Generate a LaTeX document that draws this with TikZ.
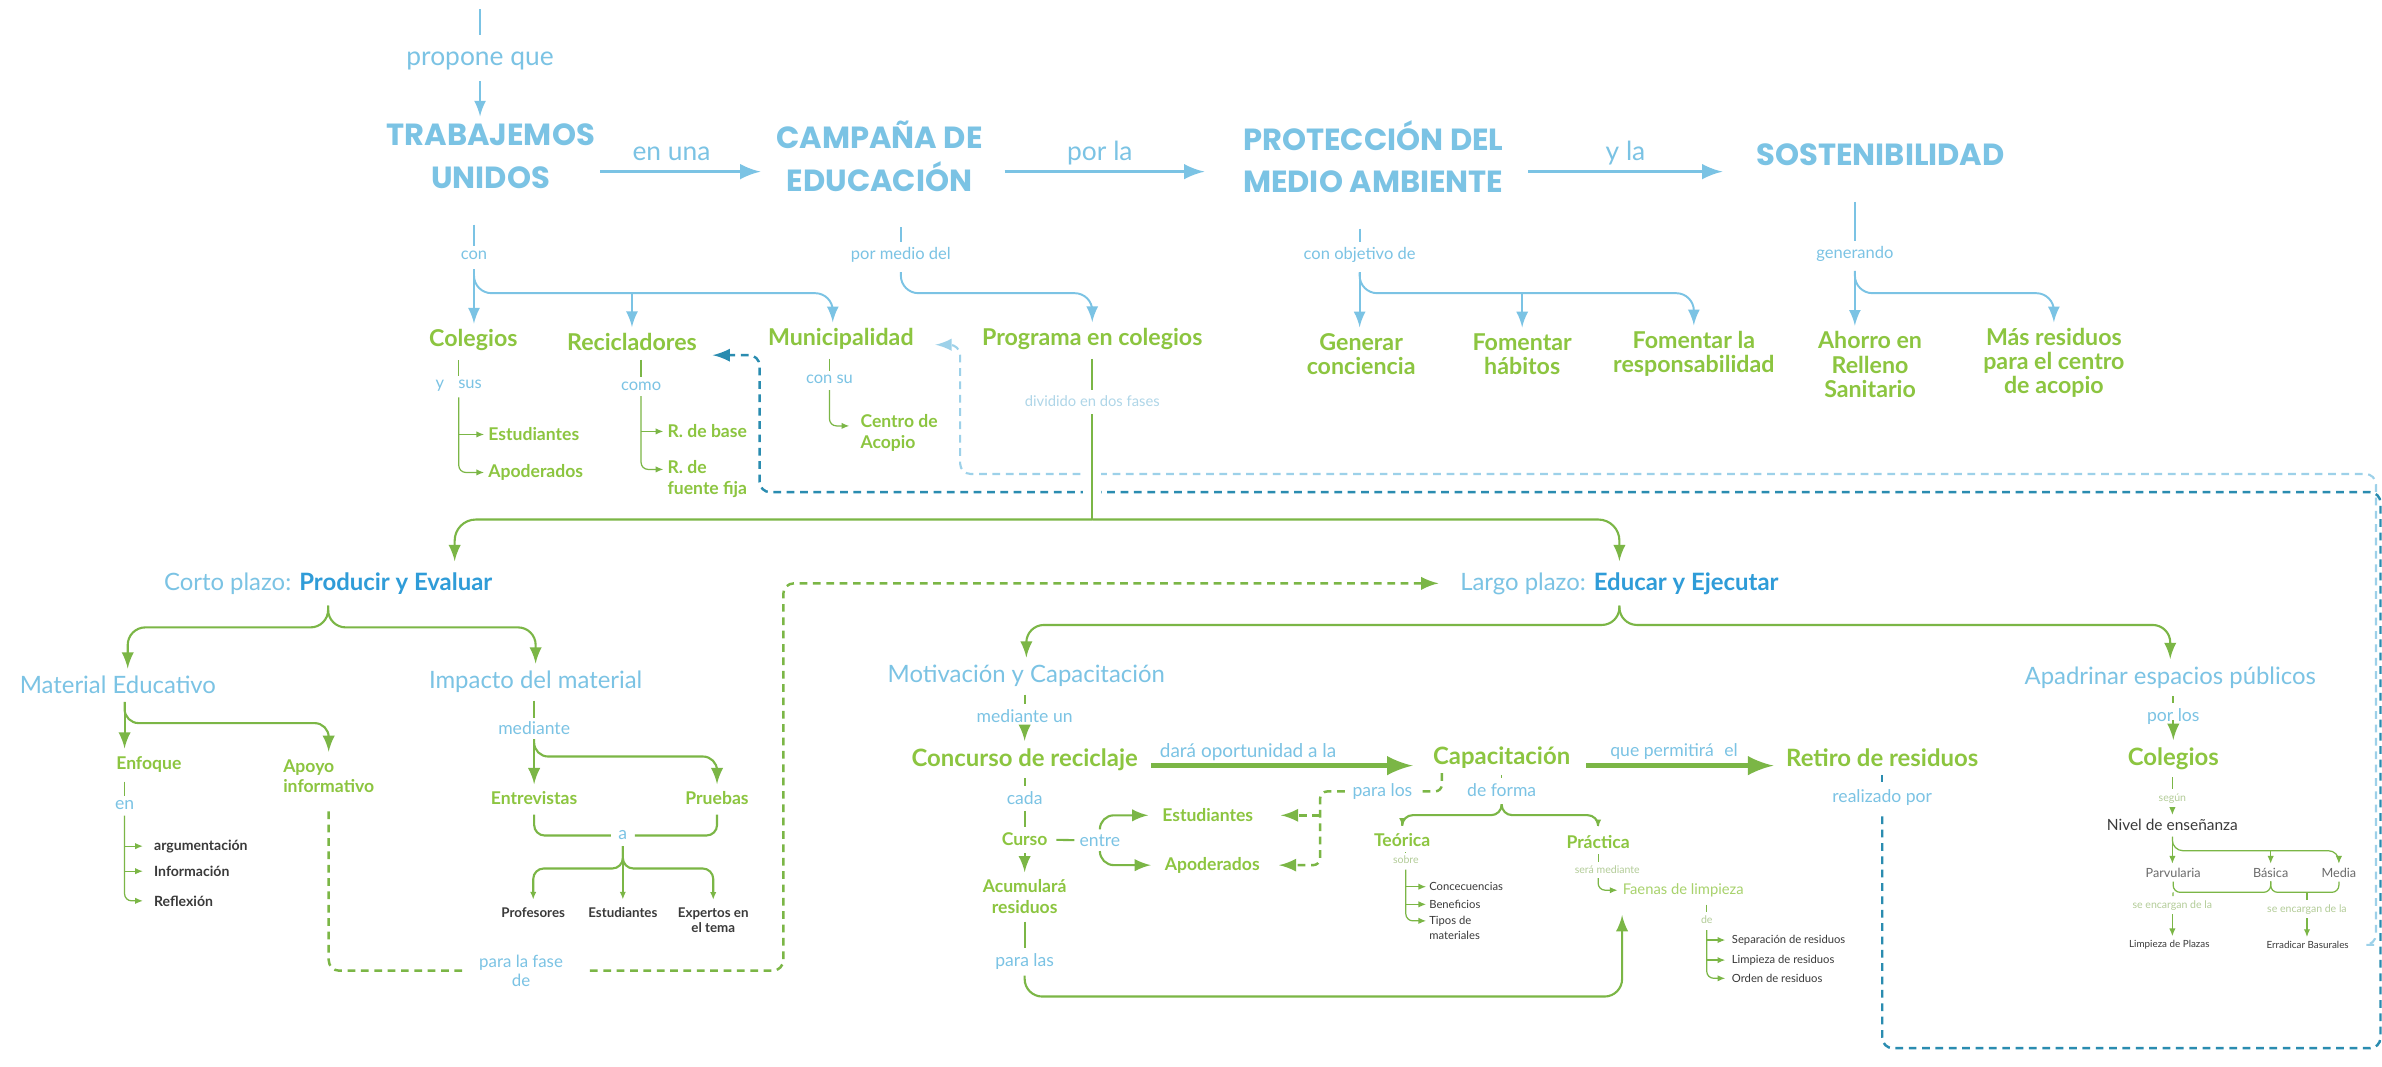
\documentclass[tikz,border=0pt]{standalone}
\usepackage{fontspec}
\setmainfont{Lato}
\newfontfamily\capsfont{Poppins}
\usetikzlibrary{positioning,shapes,arrows,arrows.meta,calc}

\definecolor{mapblue}{HTML}{7BC3E4}
\definecolor{deepblue}{HTML}{2F9CD8}
\definecolor{mapgreen}{HTML}{8CC540}
\definecolor{linegreen}{HTML}{7BB646}
\definecolor{softgreen}{HTML}{A8D26C}
\definecolor{palegreen}{HTML}{B3CC98}
\definecolor{fadeblue}{HTML}{AFD6E8}
\definecolor{tealdash}{HTML}{2A8CB0}
\definecolor{lightdash}{HTML}{9DD1E9}
\definecolor{textgray}{HTML}{3A3A3A}
\definecolor{midgray}{HTML}{6B6B6B}

\newcommand{\fsz}[2]{\fontsize{#1}{#2}\selectfont}

\begin{document}
\begin{tikzpicture}[
		x=0.1519mm, y=-0.1519mm,
		every node/.style={inner sep=0pt,align=center},
		ttl/.style={font=\capsfont\bfseries\fsz{8.7}{12.1},text=mapblue},
		lnk/.style={font=\fsz{7.5}{8},text=mapblue},
		lnks/.style={font=\fsz{4.7}{5},text=mapblue},
		lnkm/.style={font=\fsz{5}{5.3},text=mapblue},
		faint/.style={font=\fsz{3}{3.2},text=palegreen},
		gnd/.style={font=\bfseries\fsz{6.6}{6.9},text=mapgreen},
		gbig/.style={font=\bfseries\fsz{6.8}{7},text=mapgreen},
		gsm/.style={font=\bfseries\fsz{5}{5.9},text=mapgreen},
		bhead/.style={font=\fsz{6.8}{7},text=mapblue},
		gry/.style={font=\bfseries\fsz{4}{4.5},text=textgray},
		grytiny/.style={font=\bfseries\fsz{3.8}{4.5},text=textgray},
		grys/.style={font=\fsz{3.2}{4.1},text=textgray},
		nivelgray/.style={font=\fsz{3.6}{4},text=midgray},
		bline/.style={draw=mapblue,line width=0.55pt},
		barrow/.style={bline,-latex},
		bthick/.style={draw=mapblue,line width=1pt,-latex},
		gline/.style={draw=linegreen,line width=0.6pt},
		garrow/.style={gline,-latex},
		gthick/.style={draw=linegreen,line width=1.5pt,-latex},
		sline/.style={draw=linegreen,line width=0.35pt},
		tip/.style={-{Latex[length=2.2pt,width=1.8pt]}},
		gdash/.style={draw=linegreen,line width=0.7pt,dash pattern=on 2.2pt off 1.6pt},
		tdash/.style={draw=tealdash,line width=0.7pt,dash pattern=on 2.2pt off 1.6pt},
		ldash/.style={draw=lightdash,line width=0.6pt,dash pattern=on 2.2pt off 1.6pt}
		]
		\fill[white] (0,0) rectangle (1568,702);
		\useasboundingbox (0,0) rectangle (1568,702);

		% top row
		\coordinate (start) at (316,6);
		\node[lnk] (propone) at (316,40) {propone que};
		\node[ttl] (trabajemos) at (323,103) {TRABAJEMOS\\UNIDOS};
		\node[ttl] (campana) at (579,103) {CAMPAÑA DE\\EDUCACIÓN};
		\node[ttl] (proteccion) at (904,103) {PROTECCIÓN DEL\\MEDIO AMBIENTE};
		\node[ttl] (sostenib) at (1238,102) {SOSTENIBILIDAD};
		\node[lnk] (enuna) at (442,101) {en una};
		\node[lnk] (porla) at (724,101) {por la};
		\node[lnk] (yla) at (1070,101) {y la};

		\draw[bline] (start) -- ++(0,17);
		\draw[barrow,shorten <=3pt,shorten >=2pt] (propone) -- (propone |- trabajemos.north);
		\draw[bthick,shorten <=1.3pt,shorten >=4.3pt] (trabajemos.east |- 0,113) -- (campana.west |- 0,113);
		\draw[bthick,shorten <=6pt,shorten >=10.8pt] (campana.east |- 0,113) -- (proteccion.west |- 0,113);
		\draw[bthick,shorten <=6.9pt,shorten >=9.5pt] (proteccion.east |- 0,113) -- (sostenib.west |- 0,113);

		% second level
		\node[lnks] (con) at (312,168) {con};
		\node[lnks] (pormedio) at (593,168) {por medio del};
		\node[lnks] (objetivo) at (895,168) {con objetivo de};
		\node[lnks] (generando) at (1221,167) {generando};

		\node[gnd] (colegios) at (311.6,224) {Colegios};
		\node[gnd] (recicladores) at (416,225) {Recicladores};
		\node[gnd] (municipalidad) at (553.5,223) {Municipalidad};
		\node[gnd] (programa) at (719,223) {Programa en colegios};
		\node[gnd] (generar) at (896,233) {Generar\\conciencia};
		\node[gnd] (fomentarh) at (1002,233) {Fomentar\\hábitos};
		\node[gnd] (fomentarr) at (1115,233) {Fomentar la\\responsabilidad};
		\node[gnd] (ahorro) at (1231,240) {Ahorro en\\Relleno\\Sanitario};
		\node[gnd] (masres) at (1352,239) {Más residuos\\para el centro\\de acopio};

		\draw[bline,shorten <=10pt,shorten >=1.3pt] (con |- trabajemos.south) -- (con);
		\draw[barrow,shorten <=2.5pt,shorten >=1.5pt] (con) -- (con |- colegios.north);
		\draw[barrow,rounded corners=5pt,shorten <=2.5pt,shorten >=1.5pt] (con) -- (con |- 0,193) -| ([xshift=-2.3pt]municipalidad.north);
		\draw[barrow,shorten >=1.5pt] (recicladores.north |- 0,193) -- (recicladores.north);
		\draw[bline,shorten <=10pt,shorten >=1.3pt] (pormedio |- campana.south) -- (pormedio);
		\draw[barrow,rounded corners=5pt,shorten <=2.5pt,shorten >=1.5pt] (pormedio) -- (pormedio |- 0,193) -| (programa.north);
		\draw[bline,shorten <=10pt,shorten >=1.3pt] (objetivo |- proteccion.south) -- (objetivo);
		\draw[barrow,shorten <=2.5pt,shorten >=1.5pt] (objetivo) -- (objetivo |- generar.north);
		\draw[barrow,rounded corners=5pt,shorten <=2.5pt,shorten >=1.5pt] (objetivo) -- (objetivo |- 0,193) -| (fomentarr.north);
		\draw[barrow,shorten >=1.5pt] (fomentarh.north |- 0,193) -- (fomentarh.north);
		\draw[bline,shorten <=10pt,shorten >=1.3pt] (generando |- sostenib.south) -- (generando);
		\draw[barrow,shorten <=2.5pt,shorten >=1.5pt] (generando) -- (generando |- ahorro.north);
		\draw[barrow,rounded corners=5pt,shorten <=2.5pt,shorten >=1.5pt] (generando) -- (generando |- 0,193) -| (masres.north);

		% under colegios, recicladores, municipalidad
		\node[lnks] (ysus) at (302,254) {y\hspace{4pt}sus};
		\node[gsm,anchor=west] (colest) at (321,286) {Estudiantes};
		\node[gsm,anchor=west] (colapo) at (321,311) {Apoderados};
		\node[lnks] (como) at (422,254) {como};
		\node[gsm,anchor=west] (rbase) at (439,284) {R. de base};
		\node[gsm,anchor=west,align=left] (rfija) at (439,315.5) {R. de\\fuente fija};
		\node[lnks] (consu) at (546,250) {con su};
		\node[gsm,anchor=west,align=left] (acopio) at (566,285) {Centro de\\Acopio};
		\node[font=\fsz{4.2}{4.5},text=fadeblue] (dividido) at (719,264) {dividido en dos fases};

		\draw[sline,shorten <=2.5pt,shorten >=1pt] (ysus |- colegios.south) -- (ysus.north);
		\draw[sline,tip,shorten >=1pt] (ysus |- colest.west) -- (colest.west);
		\draw[sline,tip,rounded corners=2pt,shorten <=1.5pt,shorten >=1pt] (ysus) |- (colapo.west);
		\draw[sline,shorten <=2.5pt,shorten >=1pt] (como |- recicladores.south) -- (como.north);
		\draw[sline,tip,shorten >=1pt] (como |- rbase.west) -- (rbase.west);
		\draw[sline,tip,rounded corners=2pt,shorten <=1.5pt,shorten >=1pt] (como) |- ([yshift=2.8pt]rfija.west);
		\draw[sline,shorten <=2.5pt,shorten >=1pt] (consu |- municipalidad.south) -- (consu.north);
		\draw[sline,tip,rounded corners=2pt,shorten <=1.5pt,shorten >=3pt] (consu) |- ([yshift=2pt]acopio.west);
		\draw[gline,shorten <=2.5pt,shorten >=1.5pt] (dividido |- programa.south) -- (dividido);

		% short term
		\node[bhead] (corto) at (216,384) {Corto plazo: \textbf{\color{deepblue}Producir y Evaluar}};
		\node[bhead] (largo) at (1066,384) {Largo plazo: \textbf{\color{deepblue}Educar y Ejecutar}};
		\node[bhead] (material) at (77.6,451) {Material Educativo};
		\node[bhead] (impacto) at (352.6,449) {Impacto del material};
		\node[gsm] (enfoque) at (98,503) {Enfoque};
		\node[gsm,anchor=west,align=left] (apoyo) at (186,511) {Apoyo\\informativo};
		\node[lnkm] (en) at (82,530) {en};
		\node[gry,anchor=west] (argument) at (101,557) {argumentación};
		\node[gry,anchor=west] (informa) at (101,573.5) {Información};
		\node[gry,anchor=west] (reflexion) at (101,593) {Reflexión};
		\node[lnkm] (mediante) at (351.6,479.5) {mediante};
		\node[gsm] (entrevistas) at (351.6,525.6) {Entrevistas};
		\node[gsm] (pruebas) at (472,525.6) {Pruebas};
		\node[lnkm] (aa) at (410,550) {a};
		\node[grytiny] (profesores) at (351,600.5) {Profesores};
		\node[grytiny] (estudiantes) at (410,600.5) {Estudiantes};
		\node[grytiny] (expertos) at (469.5,605.8) {Expertos en\\el tema};
		\node[font=\fsz{4.8}{5.3},text=mapblue] (fase) at (343,639) {para la fase\\de};

		% long term
		\node[bhead] (motivacion) at (675.6,445) {Motivación y Capacitación};
		\node[lnkm] (medun) at (674.5,471.4) {mediante un};
		\node[gbig] (concurso) at (674.5,500) {Concurso de reciclaje};
		\node[font=\fsz{5.4}{6},text=mapblue] (daraop) at (821.6,494.8) {dará oportunidad a la};
		\node[gbig] (capacitacion) at (988.5,499) {Capacitación};
		\node[lnkm] (permite) at (1102,494.5) {que permitirá\hspace{3pt}el};
		\node[gbig] (retiro) at (1239,499) {Retiro de residuos};
		\node[lnkm] (cada) at (674.5,525.6) {cada};
		\node[gsm] (curso) at (674.5,552.4) {Curso};
		\node[lnkm] (entre) at (724,553.4) {entre};
		\node[gsm] (estudtres) at (795,536.7) {Estudiantes};
		\node[gsm] (apodtres) at (798,569.5) {Apoderados};
		\node[gsm] (acumula) at (674.5,590.4) {Acumulará\\residuos};
		\node[lnkm] (paralas) at (674.5,633) {para las};
		\node[lnkm] (paralos) at (910,521) {para los};
		\node[lnkm] (deforma) at (988.5,520) {de forma};
		\node[gsm] (teorica) at (923,553) {Teórica};
		\node[gsm] (practica) at (1052,554) {Práctica};
		\node[faint] (sobre) at (925.4,566) {sobre};
		\node[grys,anchor=west] (consec) at (940.4,583.7) {Concecuencias};
		\node[grys,anchor=west] (benef) at (940.4,595.3) {Beneficios};
		\node[grys,anchor=west,align=left] (tipos) at (940.4,610.8) {Tipos de\\materiales};
		\node[faint] (seramed) at (1058,572.7) {será mediante};
		\node[font=\fsz{4.2}{4.5},text=softgreen] (faenas) at (1108,586) {Faenas de limpieza};
		\node[faint] (defa) at (1123.5,605.7) {de};
		\node[grys,anchor=west] (separa) at (1139.6,618.8) {Separación de residuos};
		\node[grys,anchor=west] (limpres) at (1139.6,632) {Limpieza de residuos};
		\node[grys,anchor=west] (orden) at (1139.6,644) {Orden de residuos};
		\node[lnkm] (realiz) at (1239,524.7) {realizado por};

		% public spaces
		\node[bhead] (apadrinar) at (1428.6,446) {Apadrinar espacios públicos};
		\node[lnkm] (porlos) at (1430.6,472) {por los};
		\node[gbig] (colegiosb) at (1430.6,499.4) {Colegios};
		\node[faint] (segun) at (1430,525.5) {según};
		\node[font=\fsz{4.4}{5},text=textgray] (nivel) at (1430,543) {Nivel de enseñanza};
		\node[nivelgray] (parvularia) at (1430.5,574.4) {Parvularia};
		\node[nivelgray] (basica) at (1494.7,574.4) {Básica};
		\node[nivelgray] (media) at (1539.6,574.4) {Media};
		\node[faint] (encargp) at (1430,595.8) {se encargan de la};
		\node[faint] (encargb) at (1518.6,598.6) {se encargan de la};
		\node[font=\fsz{2.8}{3},text=textgray] (plazas) at (1428,622) {Limpieza de Plazas};
		\node[font=\fsz{2.8}{3},text=textgray] (erradicar) at (1519,622) {Erradicar Basurales};

		% dashed feedback lines
		\draw[tdash,shorten <=2pt,shorten >=1.5pt] (realiz |- retiro.south) -- (realiz);
		\draw[tdash,-latex,rounded corners=3pt,shorten <=3pt,shorten >=4.3pt] (realiz) |- (1567,690) |- (500,324) |- ([yshift=-3.8pt]recicladores.east);
		\draw[ldash,-latex,rounded corners=3pt,shorten <=7pt,shorten >=6pt] (erradicar) -| (1564,312) -- (632,312) |- ([yshift=-1.7pt]municipalidad.east);

		% two phases
		\draw[gline,preaction={draw=white,line width=5pt},shorten <=2pt] (dividido) -- (dividido |- 0,342);
		\draw[garrow,rounded corners=6pt,shorten >=3pt] (dividido |- 0,342) -| ([xshift=36pt]corto.north);
		\draw[garrow,rounded corners=6pt,shorten >=3pt] (dividido |- 0,342) -| (largo.north);

		\draw[garrow,rounded corners=5pt,shorten <=3pt,shorten >=2pt] (corto) -- (corto |- 0,413) -| ([xshift=2.8pt]material.north);
		\draw[garrow,rounded corners=5pt,shorten <=3pt,shorten >=2pt] (corto) -- (corto |- 0,413) -| (impacto.north);
		\draw[garrow,shorten <=2pt,shorten >=2pt] (en |- material.south) -- (en |- enfoque.north);
		\draw[garrow,rounded corners=4pt,shorten <=2pt,shorten >=2pt] (en |- material.south) -- (en |- 0,476) -| (apoyo.north);
		\draw[sline,shorten <=2.5pt,shorten >=1pt] (en |- enfoque.south) -- (en);
		\draw[sline,tip,shorten >=3pt] (en |- argument.west) -- (argument.west);
		\draw[sline,tip,shorten >=3pt] (en |- informa.west) -- (informa.west);
		\draw[sline,tip,rounded corners=2pt,shorten <=1.5pt,shorten >=3pt] (en) |- (reflexion.west);
		\draw[gline,shorten <=2pt,shorten >=1pt] (mediante |- impacto.south) -- (mediante);
		\draw[garrow,shorten <=1pt,shorten >=2pt] (mediante) -- (mediante |- entrevistas.north);
		\draw[garrow,rounded corners=4pt,shorten <=1pt,shorten >=2pt] (mediante) -- (mediante |- 0,498) -| (pruebas.north);
		\draw[gline,rounded corners=3pt,shorten <=2.5pt,shorten >=2pt] (entrevistas) |- (aa.west);
		\draw[gline,rounded corners=3pt,shorten <=2.5pt,shorten >=2pt] (pruebas) |- (aa.east);
		\draw[gline,tip,shorten <=1.5pt,shorten >=2pt] (aa) -- (estudiantes);
		\draw[gline,tip,rounded corners=3pt,shorten <=1.5pt,shorten >=2pt] (aa) -- (aa |- 0,571.7) -| (profesores.north);
		\draw[gline,tip,rounded corners=3pt,shorten <=1.5pt,shorten >=2pt] (aa) -- (aa |- 0,571.7) -| (expertos.north);
		\draw[gdash,rounded corners=3pt,shorten <=5pt,shorten >=4pt] (apoyo.south) |- (fase.west);
		\draw[gdash,-latex,rounded corners=3pt,shorten <=7.5pt,shorten >=6pt] (fase.east) -| (largo.west -| 515.6,0) -- (largo.west);

		\draw[garrow,rounded corners=5pt,shorten <=3pt,shorten >=2pt] (largo) -- (largo |- 0,411.4) -| (motivacion.north);
		\draw[garrow,rounded corners=5pt,shorten <=3pt,shorten >=2pt] (largo) -- (largo |- 0,411.4) -| (apadrinar.north);
		\draw[gline,shorten <=2pt,shorten >=1.5pt] (medun |- motivacion.south) -- (medun);
		\draw[garrow,shorten <=1.5pt,shorten >=2pt] (medun) -- (medun |- concurso.north);
		\draw[gthick,shorten <=3.7pt,shorten >=5.6pt] (concurso.east |- 0,504) -- (capacitacion.west |- 0,504);
		\draw[gthick,shorten <=4.3pt,shorten >=3.4pt] (capacitacion.east |- 0,504) -- (retiro.west |- 0,504);
		\draw[gline,shorten <=2pt,shorten >=1.5pt] (cada |- concurso.south) -- (cada);
		\draw[gline,shorten <=1.5pt,shorten >=1.5pt] (cada) -- (curso);
		\draw[garrow,shorten <=2pt,shorten >=2pt] (curso) -- (acumula);
		\draw[gline,shorten <=2pt,shorten >=1.5pt] (acumula) -- (paralas);
		\draw[garrow,rounded corners=5pt,shorten <=1.5pt,shorten >=5pt] (paralas) -- (paralas |- 0,656) -| (faenas.south west);
		\draw[gline,shorten <=2.3pt,shorten >=1.3pt] (curso) -- (entre);
		\draw[garrow,rounded corners=4pt,shorten <=1.5pt,shorten >=3.8pt] (entre) |- (estudtres.west);
		\draw[garrow,rounded corners=4pt,shorten <=1.5pt,shorten >=3.8pt] (entre) |- (apodtres.west);
		\draw[gdash,rounded corners=2pt,shorten <=1pt,shorten >=2pt] ([xshift=2.7pt]capacitacion.south west) |- (paralos.east);
		\draw[gdash,-latex,rounded corners=2pt,shorten <=2pt,shorten >=5.3pt] (paralos.west) -- (paralos.west -| 869,0) |- (apodtres.east);
		\draw[gdash,-latex,shorten >=7.7pt] (estudtres.east -| 869,0) -- (estudtres.east);
		\draw[sline,shorten <=1.5pt,shorten >=1.3pt] (deforma |- capacitacion.south) -- (deforma);
		\draw[gline,tip,rounded corners=3pt,shorten <=2pt,shorten >=2pt] (deforma) -- (deforma |- 0,536.6) -| (teorica.north);
		\draw[gline,tip,rounded corners=3pt,shorten <=2pt,shorten >=2pt] (deforma) -- (deforma |- 0,536.6) -| (practica.north);
		\draw[sline,shorten <=1.5pt,shorten >=1pt] (sobre |- teorica.south) -- (sobre);
		\draw[sline,tip,shorten >=0.7pt] (sobre |- consec.west) -- (consec.west);
		\draw[sline,tip,shorten >=0.7pt] (sobre |- benef.west) -- (benef.west);
		\draw[sline,tip,rounded corners=2pt,shorten <=1.5pt,shorten >=0.7pt] (sobre) |- ([yshift=2pt]tipos.west);
		\draw[sline,shorten <=1.5pt,shorten >=1pt] (practica) -- (practica |- seramed.north);
		\draw[sline,tip,rounded corners=2pt,shorten <=1pt,shorten >=1.3pt] (practica |- seramed.south) |- (faenas.west);
		\draw[sline,shorten <=2pt,shorten >=1pt] (defa |- faenas.south) -- (defa);
		\draw[sline,tip,shorten >=1.7pt] (defa |- separa.west) -- (separa.west);
		\draw[sline,tip,shorten >=1.7pt] (defa |- limpres.west) -- (limpres.west);
		\draw[sline,tip,rounded corners=2pt,shorten <=1.5pt,shorten >=1.7pt] (defa) |- (orden.west);

		\draw[gline,shorten <=2pt,shorten >=1.5pt] (porlos |- apadrinar.south) -- (porlos);
		\draw[garrow,shorten <=1.5pt,shorten >=2pt] (porlos) -- (porlos |- colegiosb.north);
		\draw[sline,shorten <=2pt,shorten >=1pt] (segun |- colegiosb.south) -- (segun);
		\draw[sline,tip,shorten <=1pt,shorten >=1pt] (segun) -- (segun |- nivel.north);
		\draw[sline,tip,shorten <=1.5pt,shorten >=1pt] (nivel) -- (nivel |- parvularia.north);
		\draw[sline,tip,rounded corners=3pt,shorten <=1.5pt,shorten >=1pt] (nivel) -- (nivel |- 0,560) -| (media.north);
		\draw[sline,tip,shorten >=1pt] (basica.north |- 0,560) -- (basica.north);
		\draw[sline,rounded corners=2pt,shorten <=1pt,shorten >=1pt] (parvularia) -- (parvularia |- 0,587.4) -| (basica.south);
		\draw[sline,shorten >=1pt] (parvularia |- 0,587.4) -- (encargp);
		\draw[sline,tip,shorten <=1pt,shorten >=1pt] (encargp) -- (encargp |- plazas.north);
		\draw[sline,rounded corners=2pt,shorten <=1pt,shorten >=1pt] (basica) -- (basica |- 0,587.4) -| (media.south);
		\draw[sline,shorten >=1pt] (encargb |- 0,587.4) -- (encargb);
		\draw[sline,tip,shorten <=1pt,shorten >=1pt] (encargb) -- (encargb |- erradicar.north);
	\end{tikzpicture}
\end{document}
